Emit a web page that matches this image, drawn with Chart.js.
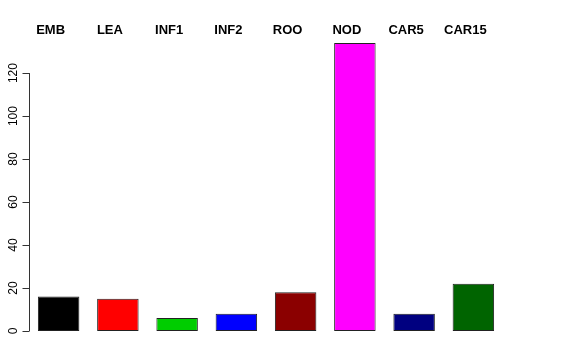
<!DOCTYPE html>
<html>
<head>
<meta charset="utf-8">
<script src="https://cdn.jsdelivr.net/npm/chart.js@4"></script>
<style>
  html, body { margin: 0; padding: 0; background: #fff; }
  canvas { display: block; }
</style>
</head>
<body>
<canvas id="barChart" width="576" height="360"></canvas>
<script>
const categories = ["EMB", "LEA", "INF1", "INF2", "ROO", "NOD", "CAR5", "CAR15"];
const counts = [16, 15, 6, 8, 18, 134, 8, 22];
const barColors = ["#000000", "#ff0000", "#00cd00", "#0000ff", "#8b0000", "#ff00ff", "#000080", "#006400"];
const yTicks = [0, 20, 40, 60, 80, 100, 120];

// R-style axis on the left plus the bold labels across the top
const decorPlugin = {
    id: "decor",
    afterDraw(chart) {
        const ctx = chart.ctx;
        const area = chart.chartArea;
        const y = chart.scales.y;
        const meta = chart.getDatasetMeta(0);

        ctx.save();
        ctx.strokeStyle = "#333";
        ctx.lineWidth = 1;
        ctx.beginPath();
        const ax = Math.round(area.left) + 0.5;
        ctx.moveTo(ax, y.getPixelForValue(yTicks[0]));
        ctx.lineTo(ax, y.getPixelForValue(yTicks[yTicks.length - 1]));
        yTicks.forEach((t) => {
            const py = Math.round(y.getPixelForValue(t)) + 0.5;
            ctx.moveTo(ax, py);
            ctx.lineTo(ax - 7, py);
        });
        ctx.stroke();

        ctx.fillStyle = "#000";
        ctx.font = "12px 'Liberation Sans', Arial, sans-serif";
        ctx.textAlign = "center";
        ctx.textBaseline = "middle";
        yTicks.forEach((t) => {
            ctx.save();
            ctx.translate(ax - 16, y.getPixelForValue(t));
            ctx.rotate(-Math.PI / 2);
            ctx.fillText(String(t), 0, 0);
            ctx.restore();
        });

        ctx.font = "bold 13px 'Liberation Sans', Arial, sans-serif";
        ctx.textAlign = "center";
        ctx.textBaseline = "alphabetic";
        meta.data.forEach((bar, i) => {
            ctx.fillText(categories[i], bar.x - 8, 34);
        });
        ctx.restore();
    },
};

new Chart(document.getElementById("barChart").getContext("2d"), {
    type: "bar",
    data: {
        labels: categories,
        datasets: [
            {
                data: counts,
                backgroundColor: barColors,
                borderColor: "#222",
                borderWidth: 1,
                borderSkipped: false,
                barPercentage: 0.7,
                categoryPercentage: 1,
            },
        ],
    },
    options: {
        responsive: false,
        animation: false,
        layout: { padding: { left: 29, right: 73, top: 43, bottom: 29 } },
        plugins: {
            legend: { display: false },
            tooltip: { enabled: false },
        },
        scales: {
            x: { display: false, offset: true },
            y: { display: false, min: 0, max: 134 },
        },
    },
    plugins: [decorPlugin],
});
</script>
</body>
</html>
